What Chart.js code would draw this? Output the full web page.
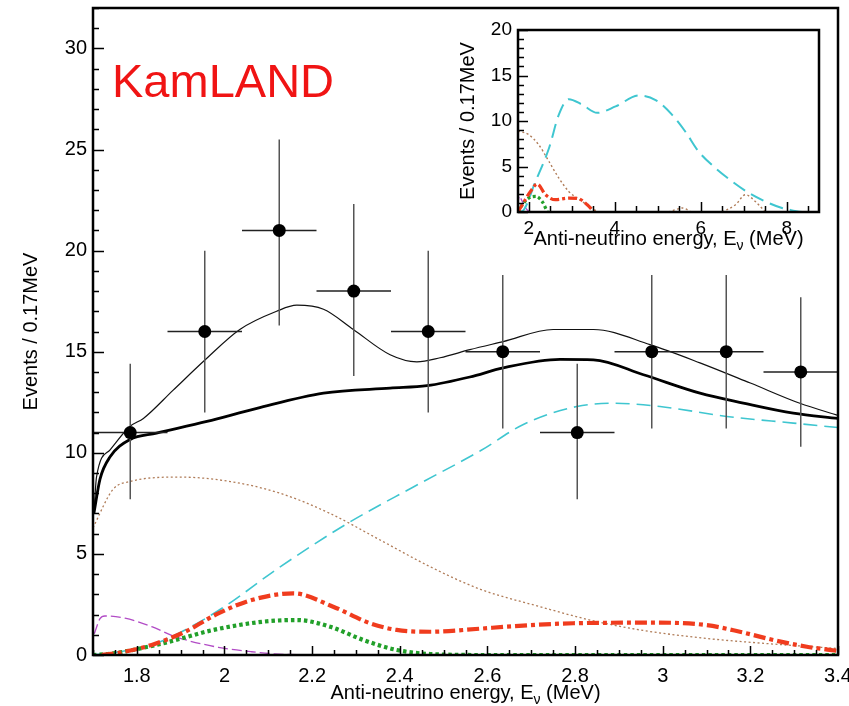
<!DOCTYPE html>
<html lang="en">
<head>
  <meta charset="UTF-8" />
  <title>KamLAND anti-neutrino spectrum</title>
  <script src="https://cdn.jsdelivr.net/npm/chart.js"></script>
  <style>
    body {
      margin: 0;
      background: #fff;
    }

    #wrap {
      position: relative;
      width: 849px;
      height: 706px;
    }

    #mainChart {
      position: absolute;
      left: 0;
      top: 0;
    }

    #insetChart {
      position: absolute;
      left: 448px;
      top: 12px;
    }
  </style>
</head>
<body>

  <div id="wrap">
    <canvas id="mainChart" width="849" height="706"></canvas>
    <canvas id="insetChart" width="395" height="256"></canvas>
  </div>

  <script>
    const FONT = '"Liberation Sans", Arial, Helvetica, sans-serif';

    // ---- main panel: measured events in 0.17 MeV bins ----
    const binCenters = [1.785, 1.955, 2.125, 2.295, 2.465, 2.635, 2.805, 2.975, 3.145, 3.315];
    const binHalfWidth = 0.085;
    const events = [11, 16, 21, 18, 16, 15, 11, 15, 15, 14];
    const errLow = [7.7, 12.0, 16.3, 13.8, 12.0, 11.2, 7.7, 11.2, 11.2, 10.3];
    const errHigh = [14.4, 20.0, 25.5, 22.3, 20.0, 18.8, 14.4, 18.8, 18.8, 17.7];

    // ---- main panel: model curves ----
    const thinX = [1.702, 1.708, 1.739, 1.784, 1.815, 1.883, 1.956, 2.035, 2.119, 2.165, 2.226, 2.294, 2.378, 2.439, 2.492, 2.56, 2.636, 2.75, 2.842, 2.971, 3.085, 3.2, 3.313, 3.4];
    const thinY = [7.0, 8.8, 10.15, 11.3, 11.7, 13.1, 14.6, 16.1, 17.0, 17.3, 17.1, 16.1, 14.85, 14.5, 14.7, 15.1, 15.5, 16.1, 16.1, 15.35, 14.45, 13.45, 12.45, 11.85];

    const thickX = [1.702, 1.716, 1.739, 1.784, 1.845, 1.96, 2.074, 2.226, 2.378, 2.462, 2.56, 2.636, 2.766, 2.842, 2.956, 3.085, 3.184, 3.298, 3.4];
    const thickY = [7.0, 8.7, 9.8, 10.65, 10.97, 11.55, 12.2, 12.95, 13.2, 13.32, 13.75, 14.2, 14.62, 14.6, 13.86, 12.95, 12.46, 11.96, 11.7];

    const cyanX = [1.7, 1.757, 1.834, 1.91, 2.0, 2.123, 2.28, 2.43, 2.584, 2.682, 2.804, 2.887, 2.994, 3.146, 3.298, 3.4];
    const cyanY = [0, 0.15, 0.5, 1.24, 2.39, 4.3, 6.5, 8.3, 10.1, 11.4, 12.29, 12.45, 12.29, 11.8, 11.47, 11.25];

    const brownX = [1.7, 1.746, 1.784, 1.898, 2.013, 2.127, 2.241, 2.355, 2.469, 2.584, 2.72, 2.834, 2.948, 3.1, 3.253, 3.4];
    const brownY = [6.3, 8.2, 8.58, 8.8, 8.58, 8.0, 7.0, 5.69, 4.37, 3.25, 2.39, 1.73, 1.24, 0.82, 0.54, 0.32];

    const redX = [1.72, 1.757, 1.834, 1.91, 1.986, 2.062, 2.157, 2.248, 2.332, 2.393, 2.469, 2.583, 2.644, 2.796, 2.986, 3.1, 3.176, 3.253, 3.329, 3.4];
    const redY = [0, 0.1, 0.5, 1.15, 2.06, 2.72, 3.05, 2.39, 1.57, 1.24, 1.15, 1.3, 1.4, 1.57, 1.6, 1.48, 1.15, 0.74, 0.41, 0.2];

    const greenX = [1.7, 1.746, 1.86, 1.975, 2.089, 2.165, 2.241, 2.317, 2.393, 2.469, 2.6, 3.4];
    const greenY = [0, 0.08, 0.58, 1.24, 1.65, 1.73, 1.4, 0.74, 0.25, 0.05, 0, 0];

    const purpleX = [1.703, 1.716, 1.727, 1.773, 1.834, 1.887, 1.986, 2.062, 2.138, 2.25];
    const purpleY = [1.05, 1.8, 1.93, 1.82, 1.4, 0.91, 0.38, 0.16, 0.03, 0];

    const xTicksMain = [1.8, 2, 2.2, 2.4, 2.6, 2.8, 3, 3.2, 3.4];
    const yTicksMain = [0, 5, 10, 15, 20, 25, 30];

    // ---- inset: full energy range ----
    const inCyanX = [1.75, 1.85, 2.16, 2.47, 2.7, 2.93, 3.24, 3.59, 4.02, 4.56, 4.95, 5.33, 5.64, 5.95, 6.34, 6.73, 7.12, 7.5, 7.89, 8.13, 8.36, 8.75];
    const inCyanY = [0, 0.1, 3.4, 7.0, 10.7, 12.4, 11.8, 10.9, 11.6, 12.8, 12.3, 10.7, 8.85, 6.65, 4.83, 3.36, 2.09, 1.16, 0.44, 0.18, 0, 0];

    const inBrownX = [1.75, 2.0, 2.23, 2.47, 2.7, 2.93, 3.24, 3.47, 3.6, 4.4, 5.25, 5.41, 5.57, 5.75, 6.0, 6.5, 6.81, 7.04, 7.27, 7.5];
    const inBrownY = [8.9, 8.5, 7.4, 5.55, 3.73, 2.26, 1.16, 0.44, 0, null, 0, 0.25, 0.44, 0.1, null, 0, 0.8, 1.9, 1.16, 0];

    const inRedX = [1.75, 1.85, 2.04, 2.2, 2.39, 2.62, 2.93, 3.16, 3.36, 3.51];
    const inRedY = [0, 0.8, 2.26, 3.07, 1.9, 1.35, 1.53, 1.46, 0.8, 0.05];

    const inGreenX = [1.75, 1.85, 2.0, 2.16, 2.31, 2.43];
    const inGreenY = [0, 0.8, 1.53, 1.71, 1.16, 0.05];

    const inPurpleX = [1.75, 1.78, 1.85, 1.96, 2.05];
    const inPurpleY = [1.0, 1.7, 1.16, 0.25, 0];

    const xTicksInset = [2, 4, 6, 8];
    const yTicksInset = [0, 5, 10, 15, 20];

    const COLORS = {
      cyan: '#3fc6d0',
      brown: '#b07c58',
      red: '#f03c1e',
      green: '#22a02a',
      purple: '#b24cc6'
    };

    function pts(xs, ys) {
      return xs.map((x, i) => ({ x: x, y: ys[i] }));
    }

    function curve(label, xs, ys, color, width, dash) {
      return {
        label: label,
        data: pts(xs, ys),
        borderColor: color,
        borderWidth: width,
        borderDash: dash || [],
        borderCapStyle: 'butt',
        pointRadius: 0,
        fill: false,
        cubicInterpolationMode: 'monotone'
      };
    }

    function drawXTitle(ctx, cx, baseline, size) {
      const a = 'Anti-neutrino energy, E', sub = 'ν', b = ' (MeV)';
      const subSize = Math.round(size * 0.68);
      ctx.font = size + 'px ' + FONT;
      const wa = ctx.measureText(a).width;
      const wb = ctx.measureText(b).width;
      ctx.font = subSize + 'px ' + FONT;
      const ws = ctx.measureText(sub).width;
      let x = cx - (wa + ws + wb) / 2;
      ctx.textAlign = 'left';
      ctx.textBaseline = 'alphabetic';
      ctx.font = size + 'px ' + FONT;
      ctx.fillText(a, x, baseline);
      x += wa;
      ctx.font = subSize + 'px ' + FONT;
      ctx.fillText(sub, x, baseline + size * 0.25);
      x += ws;
      ctx.font = size + 'px ' + FONT;
      ctx.fillText(b, x, baseline);
    }

    // frame, inward ticks, axis titles and text label
    const decor = {
      id: 'decor',
      afterDraw(chart, args, o) {
        const { ctx, chartArea: a, scales: { x, y } } = chart;
        ctx.save();
        ctx.strokeStyle = '#000';
        ctx.lineWidth = 1.5;
        ctx.beginPath();
        const isMajor = (v, step) => Math.abs(v / step - Math.round(v / step)) < 1e-6;
        let start = Math.ceil(x.min / o.xMinor - 1e-9);
        let end = Math.floor(x.max / o.xMinor + 1e-9);
        for (let k = start; k <= end; k++) {
          const v = k * o.xMinor;
          const px = Math.round(x.getPixelForValue(v)) + 0.5;
          const len = isMajor(v, o.xMajor) ? o.xMajorLen : o.xMinorLen;
          ctx.moveTo(px, a.bottom);
          ctx.lineTo(px, a.bottom - len);
        }
        start = Math.ceil(y.min / o.yMinor - 1e-9);
        end = Math.floor(y.max / o.yMinor + 1e-9);
        for (let k = start; k <= end; k++) {
          const v = k * o.yMinor;
          const py = Math.round(y.getPixelForValue(v)) + 0.5;
          const len = isMajor(v, o.yMajor) ? o.yMajorLen : o.yMinorLen;
          ctx.moveTo(a.left, py);
          ctx.lineTo(a.left + len, py);
        }
        ctx.stroke();

        ctx.lineWidth = o.frameWidth;
        ctx.strokeRect(a.left, a.top, a.right - a.left, a.bottom - a.top);

        ctx.fillStyle = '#000';
        drawXTitle(ctx, (a.left + a.right) / 2, o.xTitleY, o.titleSize);

        ctx.save();
        ctx.translate(o.yTitleX, (a.top + a.bottom) / 2);
        ctx.rotate(-Math.PI / 2);
        ctx.font = o.titleSize + 'px ' + FONT;
        ctx.textAlign = 'center';
        ctx.textBaseline = 'middle';
        ctx.fillText('Events / 0.17MeV', 0, 0);
        ctx.restore();

        if (o.label) {
          ctx.font = o.label.size + 'px ' + FONT;
          ctx.fillStyle = o.label.color;
          ctx.textAlign = 'left';
          ctx.textBaseline = 'alphabetic';
          ctx.fillText(o.label.text, o.label.x, o.label.y);
        }
        ctx.restore();
      }
    };

    function axis(min, max, tickValues, size, padding, fit) {
      return {
        type: 'linear',
        min: min,
        max: max,
        afterBuildTicks: s => { s.ticks = tickValues.map(v => ({ value: v })); },
        afterFit: fit,
        grid: { display: false, drawTicks: false },
        border: { display: false },
        ticks: {
          padding: padding,
          color: '#000',
          font: { family: FONT, size: size },
          maxRotation: 0,
          autoSkip: false,
          callback: v => String(v)
        }
      };
    }

    // ---- error bars as broken line segments ----
    const vBars = binCenters.flatMap((x, i) => [{ x: x, y: errLow[i] }, { x: x, y: errHigh[i] }, { x: x, y: null }]);
    const hBars = binCenters.flatMap((x, i) => [
      { x: x - binHalfWidth, y: events[i] },
      { x: x + binHalfWidth, y: events[i] },
      { x: x, y: null }
    ]);

    new Chart(document.getElementById('mainChart'), {
      type: 'line',
      data: {
        datasets: [
          {
            label: 'KamLAND data',
            data: pts(binCenters, events),
            showLine: false,
            pointRadius: 6.5,
            pointBackgroundColor: '#000',
            pointBorderWidth: 0
          },
          { label: 'bin width', data: hBars, borderColor: '#222', borderWidth: 1.5, pointRadius: 0, tension: 0, spanGaps: false },
          { label: 'error', data: vBars, borderColor: '#555', borderWidth: 1.5, pointRadius: 0, tension: 0, spanGaps: false },
          curve('Total (best fit)', thickX, thickY, '#000', 2.8),
          curve('Total (with geo)', thinX, thinY, '#111', 1.2),
          curve('U geo-neutrinos', redX, redY, COLORS.red, 4.2, [12, 4, 4, 4]),
          curve('Th geo-neutrinos', greenX, greenY, COLORS.green, 4.2, [3.5, 3]),
          curve('Reactor', cyanX, cyanY, COLORS.cyan, 1.6, [14, 7]),
          curve('(α,n) background', brownX, brownY, COLORS.brown, 1.3, [2, 2.5]),
          curve('Accidentals', purpleX, purpleY, COLORS.purple, 1.3, [10, 4])
        ]
      },
      options: {
        responsive: false,
        animation: false,
        events: [],
        layout: { padding: { top: 8, right: 11, left: 0, bottom: 0 }, autoPadding: false },
        plugins: {
          legend: { display: false },
          tooltip: { enabled: false },
          decor: {
            xMinor: 0.05, xMajor: 0.2, xMajorLen: 9, xMinorLen: 5,
            yMinor: 1, yMajor: 5, yMajorLen: 11, yMinorLen: 6,
            frameWidth: 2.5,
            titleSize: 20,
            xTitleY: 699,
            yTitleX: 31,
            label: { text: 'KamLAND', x: 112, y: 97, size: 47, color: '#f01414' }
          }
        },
        scales: {
          x: axis(1.7, 3.4, xTicksMain, 20, 9, s => { s.height = 51; s.paddingLeft = 0; s.paddingRight = 0; }),
          y: axis(0, 32, yTicksMain, 20, 6, s => { s.width = 93; s.paddingTop = 0; s.paddingBottom = 0; })
        }
      },
      plugins: [decor]
    });

    new Chart(document.getElementById('insetChart'), {
      type: 'line',
      data: {
        datasets: [
          curve('U geo-neutrinos', inRedX, inRedY, COLORS.red, 3.2, [9, 3, 3, 3]),
          curve('Th geo-neutrinos', inGreenX, inGreenY, COLORS.green, 3.2, [3, 2.5]),
          curve('Reactor', inCyanX, inCyanY, COLORS.cyan, 2, [14, 7]),
          curve('(α,n) background', inBrownX, inBrownY, COLORS.brown, 1.4, [2, 2.5]),
          curve('Accidentals', inPurpleX, inPurpleY, COLORS.purple, 1.3, [6, 3])
        ]
      },
      options: {
        responsive: false,
        animation: false,
        events: [],
        layout: { padding: { top: 18, right: 24, left: 0, bottom: 0 }, autoPadding: false },
        plugins: {
          legend: { display: false },
          tooltip: { enabled: false },
          decor: {
            xMinor: 0.5, xMajor: 2, xMajorLen: 10, xMinorLen: 6,
            yMinor: 1, yMajor: 5, yMajorLen: 10, yMinorLen: 6,
            frameWidth: 2.5,
            titleSize: 20,
            xTitleY: 233,
            yTitleX: 20
          }
        },
        scales: {
          x: axis(1.75, 8.75, xTicksInset, 19, 5, s => { s.height = 56; s.paddingLeft = 0; s.paddingRight = 0; }),
          y: axis(0, 20, yTicksInset, 19, 6, s => { s.width = 70; s.paddingTop = 0; s.paddingBottom = 0; })
        }
      },
      plugins: [decor]
    });
  </script>

</body>
</html>
